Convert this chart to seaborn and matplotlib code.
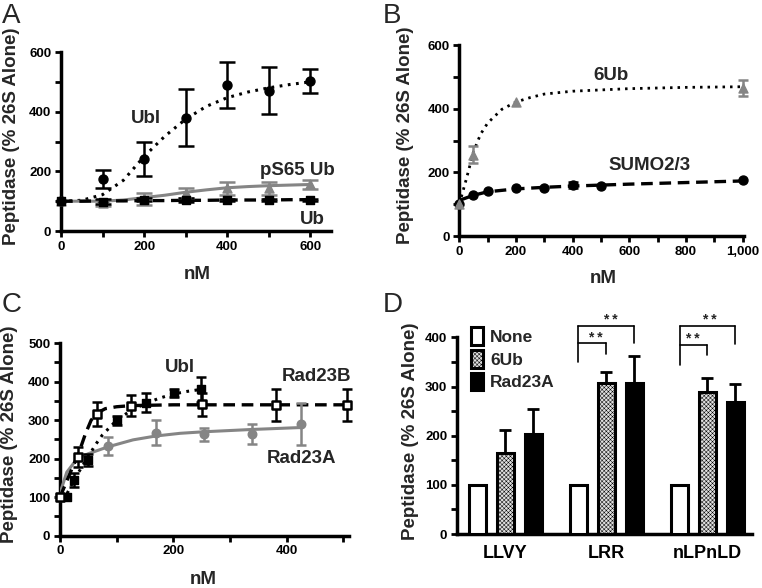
import numpy as np
import pandas as pd
import matplotlib
matplotlib.use("Agg")
import matplotlib.pyplot as plt
import seaborn as sns
from matplotlib.ticker import MultipleLocator, FuncFormatter
from matplotlib.patches import Patch

# ---------------- data ----------------
# Panel A
a_x = [0, 100, 200, 300, 400, 500, 600]
a_ubl = [100, 175, 242, 380, 490, 470, 502]
a_ubl_err = [0, 30, 57, 95, 78, 79, 40]
a_ps65 = [100, 93, 108, 128, 143, 143, 156]
a_ps65_err = [0, 10, 20, 17, 22, 22, 14]
a_ub = [100, 98, 105, 104, 104, 104, 105]
a_ub_err = [0, 8, 6, 6, 5, 5, 4]
a_fit_x = [0, 50, 100, 150, 200, 250, 300, 350, 400, 450, 500, 550, 600]
a_ubl_fit = [100, 103, 122, 170, 250, 318, 375, 418, 447, 466, 480, 491, 500]
a_ps65_fit = [100, 100, 100, 104, 112, 120, 130, 138, 145, 149, 152, 154, 156]
a_ub_fit = [100, 100, 101, 101, 102, 102, 103, 103, 104, 104, 104, 105, 105]

# Panel B
b_6ub_x = [0, 50, 200, 1000]
b_6ub = [100, 256, 421, 466]
b_6ub_err = [0, 26, 0, 25]
b_sumo_x = [0, 50, 100, 200, 300, 400, 500, 1000]
b_sumo = [100, 129, 142, 150, 150, 161, 158, 175]
b_sumo_err = [0, 0, 0, 0, 0, 9, 0, 0]
b_6ub_fit_x = [0, 25, 50, 75, 100, 150, 200, 250, 300, 400, 600, 800, 1000]
b_6ub_fit = [100, 180, 265, 320, 355, 398, 421, 435, 446, 455, 463, 467, 469]
b_sumo_fit_x = [0, 50, 100, 200, 300, 400, 500, 600, 800, 1000]
b_sumo_fit = [112, 128, 139, 148, 153, 157, 160, 163, 168, 173]

# Panel C
c_ubl_x = [0, 12, 25, 50, 100, 151, 201, 249]
c_ubl = [100, 101, 145, 197, 300, 346, 371, 380]
c_ubl_err = [0, 0, 18, 15, 12, 25, 10, 32]
c_ubl_fit_x = [0, 12, 25, 37, 50, 62, 75, 100, 125, 150, 175, 200, 225, 249]
c_ubl_fit = [100, 108, 145, 175, 205, 235, 262, 300, 325, 343, 357, 368, 375, 380]
c_b_x = [0, 32, 65, 126, 251, 381, 507]
c_b = [100, 204, 316, 338, 341, 340, 340]
c_b_err = [0, 26, 31, 28, 29, 41, 42]
c_b_fit_x = [0, 10, 20, 32, 45, 55, 65, 80, 100, 126, 200, 507]
c_b_fit = [100, 135, 170, 210, 265, 300, 318, 330, 335, 338, 340, 340]
c_a_x = [0, 85, 169, 254, 339, 425]
c_a = [100, 233, 268, 263, 264, 290]
c_a_err = [0, 24, 33, 18, 26, 55]
c_a_fit_x = [0, 12, 25, 36, 50, 85, 129, 169, 212, 254, 339, 425]
c_a_fit = [110, 165, 190, 204, 213, 231, 249, 259, 266, 270, 276, 281]

# Panel D
substrates = ["LLVY", "LRR", "nLPnLD"]
treatments = ["None", "6Ub", "Rad23A"]
d_none = [100, 100, 100]
d_6ub = [164, 308, 288]
d_rad = [203, 308, 268]
d_6ub_err = [47, 22, 29]
d_rad_err = [52, 54, 37]

# ---------------- style ----------------
sns.set_theme(style="ticks")
plt.rcParams["font.family"] = ["Liberation Sans", "DejaVu Sans"]
plt.rcParams["font.weight"] = "bold"
plt.rcParams["axes.labelweight"] = "bold"
plt.rcParams["hatch.linewidth"] = 0.35

GRAY = "#858585"
BLACK = "black"
YLAB = "Peptidase (% 26S Alone)"
ANN = 13.5

fig = plt.figure(figsize=(7.62, 5.88), dpi=100)
axA = fig.add_axes([0.0801, 0.6071, 0.3543, 0.3044])
axB = fig.add_axes([0.6028, 0.5986, 0.3736, 0.3248])
axC = fig.add_axes([0.0787, 0.0889, 0.3793, 0.3274])
axD = fig.add_axes([0.5997, 0.0918, 0.3871, 0.3345])


def style_ax(ax, xmaj, xmin, ymaj, ymin, show_x=True):
    for s in ["top", "right"]:
        ax.spines[s].set_visible(False)
    for s in ["left", "bottom"]:
        ax.spines[s].set_linewidth(2.5)
        ax.spines[s].set_color("black")
    if show_x:
        ax.xaxis.set_major_locator(MultipleLocator(xmaj))
        ax.xaxis.set_minor_locator(MultipleLocator(xmin))
    ax.yaxis.set_major_locator(MultipleLocator(ymaj))
    ax.yaxis.set_minor_locator(MultipleLocator(ymin))
    ax.tick_params(which="both", width=2, length=4, direction="out",
                   labelsize=9.5, pad=3, color="black", labelcolor="black")


def err(ax, x, y, e, color, capsize=3.5, lw=1.8, z=4):
    xs = [a for a, b in zip(x, e) if b > 0]
    ys = [a for a, b in zip(y, e) if b > 0]
    es = [b for b in e if b > 0]
    ax.errorbar(xs, ys, yerr=es, fmt="none", ecolor=color, elinewidth=lw,
                capsize=capsize, capthick=lw, zorder=z, clip_on=False)


def fitline(ax, x, y, color, ls, lw=2.2):
    sns.lineplot(x=x, y=y, ax=ax, color=color, linestyle=ls, linewidth=lw,
                 sort=False, zorder=3, estimator=None)


def pts(ax, x, y, marker, fc, ec, s=42, lw=1.0):
    sns.scatterplot(x=x, y=y, ax=ax, marker=marker, color=fc, edgecolor=ec,
                    s=s, linewidth=lw, zorder=5, clip_on=False, legend=False)


# ---------------- Panel A ----------------
fitline(axA, a_fit_x, a_ubl_fit, BLACK, (0, (0.9, 1.8)), 2.2)
fitline(axA, a_fit_x, a_ps65_fit, GRAY, "-", 2.2)
fitline(axA, a_fit_x, a_ub_fit, BLACK, (0, (3.5, 2)), 2.4)
err(axA, a_x, a_ubl, a_ubl_err, BLACK, capsize=5.5)
err(axA, a_x, a_ps65, a_ps65_err, GRAY, capsize=5.5)
err(axA, a_x, a_ub, a_ub_err, BLACK, capsize=5.5)
pts(axA, a_x, a_ps65, "^", GRAY, GRAY)
pts(axA, a_x, a_ub, "s", BLACK, BLACK, s=38)
pts(axA, a_x, a_ubl, "o", BLACK, BLACK)
axA.set_xlim(0, 650)
axA.set_ylim(0, 600)
style_ax(axA, 200, 100, 200, 100)
axA.text(204, 378, "Ubl", ha="center", va="center", fontsize=ANN, fontweight="bold")
axA.text(568, 202, "pS65 Ub", ha="center", va="center", fontsize=ANN, fontweight="bold")
axA.text(606, 37, "Ub", ha="center", va="center", fontsize=ANN, fontweight="bold")

# ---------------- Panel B ----------------
fitline(axB, b_6ub_fit_x, b_6ub_fit, BLACK, (0, (0.9, 1.8)), 2.0)
fitline(axB, b_sumo_fit_x, b_sumo_fit, BLACK, (0, (3.5, 2)), 2.4)
err(axB, b_6ub_x, b_6ub, b_6ub_err, GRAY, capsize=3.6)
err(axB, b_sumo_x, b_sumo, b_sumo_err, BLACK, capsize=3.6)
pts(axB, b_sumo_x, b_sumo, "o", BLACK, BLACK)
pts(axB, b_6ub_x, b_6ub, "^", GRAY, GRAY)
axB.set_xlim(0, 1005)
axB.set_ylim(0, 600)
style_ax(axB, 200, 100, 200, 100)
axB.xaxis.set_major_formatter(FuncFormatter(lambda v, p: f"{int(round(v)):,}"))
axB.text(537, 503, "6Ub", ha="center", va="center", fontsize=ANN, fontweight="bold")
axB.text(672, 221, "SUMO2/3", ha="center", va="center", fontsize=ANN, fontweight="bold")

# ---------------- Panel C ----------------
fitline(axC, c_a_fit_x, c_a_fit, GRAY, "-", 2.2)
fitline(axC, c_b_fit_x, c_b_fit, BLACK, (0, (3.5, 2)), 2.4)
fitline(axC, c_ubl_fit_x, c_ubl_fit, BLACK, (0, (0.9, 1.8)), 2.2)
err(axC, c_a_x, c_a, c_a_err, GRAY, capsize=3.5)
err(axC, c_b_x, c_b, c_b_err, BLACK, capsize=3.5)
err(axC, c_ubl_x, c_ubl, c_ubl_err, BLACK, capsize=3.5)
pts(axC, c_a_x, c_a, "o", GRAY, GRAY, s=38)
pts(axC, c_ubl_x, c_ubl, "s", BLACK, BLACK, s=32)
pts(axC, c_b_x, c_b, "s", "white", BLACK, s=40, lw=1.8)
axC.set_xlim(0, 510)
axC.set_ylim(0, 500)
style_ax(axC, 200, 100, 100, 50)
axC.text(212, 437, "Ubl", ha="center", va="center", fontsize=ANN, fontweight="bold")
axC.text(453, 413, "Rad23B", ha="center", va="center", fontsize=ANN, fontweight="bold")
axC.text(426, 201, "Rad23A", ha="center", va="center", fontsize=ANN, fontweight="bold")

# ---------------- Panel D ----------------
df = pd.DataFrame({
    "substrate": substrates * 3,
    "treatment": [t for t in treatments for _ in substrates],
    "value": d_none + d_6ub + d_rad,
})
sns.barplot(data=df, x="substrate", y="value", hue="treatment", order=substrates,
            hue_order=treatments, palette=["white", "#e0e0e0", "black"],
            edgecolor="black", linewidth=2.2, width=0.83, gap=0.4,
            errorbar=None, legend=False, ax=axD, zorder=3)
for bar in axD.containers[1]:
    bar.set_hatch("xxxxxxxx")
for cont, errs in [(axD.containers[1], d_6ub_err), (axD.containers[2], d_rad_err)]:
    xs = [b.get_x() + b.get_width() / 2 for b in cont]
    ys = [b.get_height() for b in cont]
    axD.errorbar(xs, ys, yerr=[[0] * len(errs), errs], fmt="none", ecolor="black",
                 elinewidth=2.0, capsize=4.3, capthick=2.0, zorder=2)
axD.set_xlim(-0.48, 2.44)
axD.set_ylim(0, 400)
style_ax(axD, 1, 1, 100, 50, show_x=False)
axD.tick_params(axis="x", length=0, labelsize=13, pad=8)
axD.set_xlabel("")

# significance brackets
def bracket(ax, xl, xm, xr, yl, yhi, ylo, yrl, yrm):
    kw = dict(color="black", lw=1.2, clip_on=False, zorder=6)
    ax.plot([xl, xl], [yl, yhi], **kw)
    ax.plot([xl, xr], [yhi, yhi], **kw)
    ax.plot([xr, xr], [yhi, yrl], **kw)
    ax.plot([xl, xm], [ylo, ylo], **kw)
    ax.plot([xm, xm], [ylo, yrm], **kw)

bracket(axD, 0.723, 1.0, 1.277, 350, 423, 388, 388, 367)
bracket(axD, 1.723, 2.0, 2.277, 344, 423, 384, 386, 364)
for x, y in [(0.894, 398), (1.036, 436), (1.851, 396), (2.016, 436)]:
    axD.text(x, y, "* *", ha="center", va="center", fontsize=10, clip_on=False)

handles = [Patch(facecolor="white", edgecolor="black", linewidth=2.2),
           Patch(facecolor="#e0e0e0", edgecolor="black", linewidth=2.2, hatch="xxxxxxxx"),
           Patch(facecolor="black", edgecolor="black", linewidth=2.2)]
axD.legend(handles, treatments, loc="upper left", bbox_to_anchor=(0.046, 1.051),
           frameon=False, fontsize=12.5, handlelength=0.7, handleheight=1.2,
           handletextpad=0.44, labelspacing=0.28, borderpad=0, borderaxespad=0)

# ---------------- labels ----------------
for ax, lx, ly in [(axA, -0.152, 0.53), (axB, -0.159, 0.529),
                   (axC, -0.145, 0.528), (axD, -0.129, 0.521)]:
    ax.set_ylabel(YLAB, fontsize=13.5, fontweight="bold")
    ax.yaxis.set_label_coords(lx, ly)
for ax, lx, ly in [(axA, 0.504, -0.196), (axB, 0.507, -0.178), (axC, 0.496, -0.181)]:
    ax.set_xlabel("nM", fontsize=13.5, fontweight="bold")
    ax.xaxis.set_label_coords(lx, ly)

for letter, x, y in [("A", 0.002, 0.995), ("B", 0.502, 0.995),
                     ("C", 0.002, 0.503), ("D", 0.502, 0.503)]:
    fig.text(x, y, letter, fontsize=20, fontweight="normal", va="top", ha="left")

fig.savefig("out.png", dpi=100)
